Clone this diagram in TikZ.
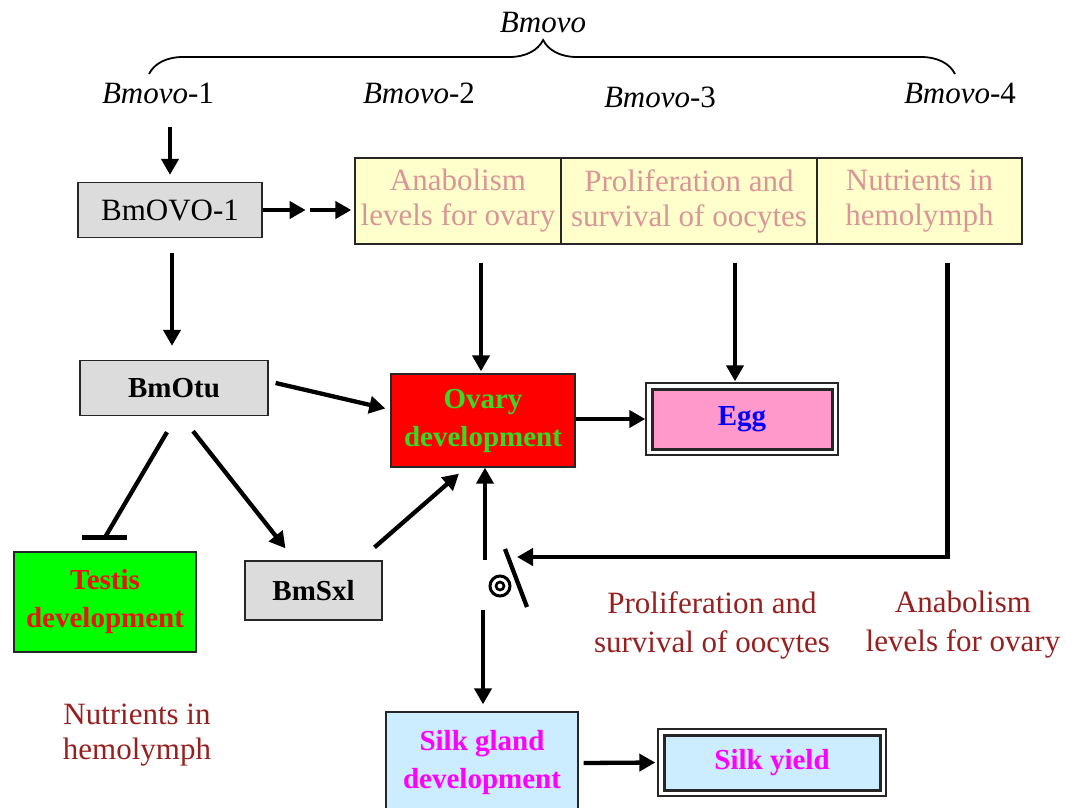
\documentclass[tikz,border=0pt]{standalone}
\usepackage{fontspec}
\setmainfont{Liberation Serif}
\usetikzlibrary{arrows.meta,decorations.pathreplacing,calc}
\definecolor{boxgray}{HTML}{DCDCDC}
\definecolor{boxyellow}{HTML}{FFFFCC}
\definecolor{paletext}{HTML}{DA9598}
\definecolor{ovred}{HTML}{FF0000}
\definecolor{ovgreen}{HTML}{33DD22}
\definecolor{tegreen}{HTML}{00FF00}
\definecolor{tered}{HTML}{EE1111}
\definecolor{eggpink}{HTML}{FF99CC}
\definecolor{eggblue}{HTML}{0000FF}
\definecolor{silkblue}{HTML}{CCECFF}
\definecolor{silkmag}{HTML}{FF00FF}
\definecolor{labred}{HTML}{962020}
\begin{document}
\begin{tikzpicture}[x=1pt,y=-1pt,
  txt/.style={font=\fontsize{31}{35}\selectfont,inner sep=0pt,align=center},
  box/.style={draw=black!85,line width=1.3pt,inner sep=0pt,align=center,font=\fontsize{31}{35}\selectfont},
  bbox/.style={box,font=\fontsize{29}{38}\selectfont\bfseries},
  dblbox/.style={bbox,fill=white,line width=1.4pt,
    path picture={\draw[line width=3pt,fill=#1]
      ([shift={(6pt,-6pt)}]path picture bounding box.north west) rectangle
      ([shift={(-6pt,6pt)}]path picture bounding box.south east);}},
  arr/.style={line width=4.3pt,-{Triangle[length=16pt,width=17pt]}},
  plain/.style={line width=4.3pt}]
\useasboundingbox (0,0) rectangle (1066,807);
% gene labels and brace
\node[txt] (bmovo) at (543,22) {\textit{Bmovo}};
\node[txt] (b1) at (158,93) {\textit{Bmovo}-1};
\node[txt] (b2) at (419,93) {\textit{Bmovo}-2};
\node[txt] (b3) at (660,97) {\textit{Bmovo}-3};
\node[txt] (b4) at (960,93) {\textit{Bmovo}-4};
\coordinate (brL) at (149,74);
\coordinate (brR) at (955,74);
\draw[line width=1.8pt,decorate,decoration={brace,amplitude=34pt,aspect=0.489}] (brL) -- (brR);
% boxes
\node[box,fill=boxgray,minimum width=184pt,minimum height=55pt] (ovo1) at (170,210) {BmOVO-1};
\node[box,fill=boxyellow,text=paletext,minimum width=206pt,minimum height=86pt] (y1) at (458,201) {Anabolism\\levels for ovary};
\node[box,fill=boxyellow,text=paletext,minimum width=256pt,minimum height=86pt] (y2) at (689,201) {Proliferation and\\survival of oocytes};
\node[box,fill=boxyellow,text=paletext,minimum width=205pt,minimum height=86pt] (y3) at (919.5,201) {Nutrients in\\hemolymph};
\node[bbox,fill=boxgray,minimum width=188pt,minimum height=55pt] (otu) at (174,388) {BmOtu};
\node[bbox,fill=ovred,text=ovgreen,minimum width=184pt,minimum height=93pt] (ovary) at (483,420.5) {Ovary\\development};
\node[dblbox=eggpink,text=eggblue,minimum width=192pt,minimum height=72pt] (egg) at (742,419) {Egg};
\node[bbox,fill=tegreen,text=tered,minimum width=182pt,minimum height=100pt] (testis) at (105,602) {Testis\\development};
\node[bbox,fill=boxgray,minimum width=137pt,minimum height=59pt] (sxl) at (313.5,590.5) {BmSxl};
\node[bbox,fill=silkblue,text=silkmag,minimum width=192pt,minimum height=102pt] (silk) at (482,763) {Silk gland\\development};
\node[dblbox=silkblue,text=silkmag,minimum width=228pt,minimum height=67pt] (yield) at (772,762.5) {Silk yield};
% free labels
\node[txt,text=labred,font=\fontsize{31}{39}\selectfont] (lab1) at (712,625) {Proliferation and\\survival of oocytes};
\node[txt,text=labred,font=\fontsize{31}{39}\selectfont] (lab2) at (963,625) {Anabolism\\levels for ovary};
\node[txt,text=labred,font=\fontsize{31}{35}\selectfont] (lab3) at (137,735) {Nutrients in\\hemolymph};
% switch symbol
\coordinate (sym) at (500,586);
\coordinate (sl1) at (505,549);
\coordinate (sl2) at (527,607);
\coordinate (swin) at (517,557);
\draw[line width=3pt] (sym) circle[radius=10];
\draw[line width=2.6pt] (sym) circle[radius=4];
\draw[line width=4.3pt] (sl1) -- (sl2);
% connectors
\draw[arr] ($(ovo1.north)+(0,-55)$) -- ($(ovo1.north)+(0,-7)$);
\draw[arr] (ovo1.east) -- ++(43,0);
\draw[arr] ($(y1.west |- ovo1.east)+(-44,0)$) -- ($(y1.west |- ovo1.east)+(-3,0)$);
\draw[arr] ($(y1.south -| ovary)+(-2,18)$) -- ($(ovary.north)+(-2,-2)$);
\draw[arr] ($(y2.south)+(46,18)$) -- ($(egg.north)+(-7,-1)$);
\draw[arr] ($(y3.south)+(28,18)$) |- (swin);
\draw[arr] ($(ovo1.south)+(2,15)$) -- ($(otu.north)+(-2,-14)$);
\draw[arr] ($(otu.east)+(7,-5)$) -- ($(ovary.west)+(-5,-12)$);
\draw[arr] (ovary.east |- egg.west) -- (egg.west);
\draw[plain] ($(otu.south)+(-7,16)$) -- ($(testis.north)+(0,-14)$);
\draw[plain] ($(testis.north)+(-23,-14)$) -- ($(testis.north)+(22,-14)$);
\draw[arr] ($(otu.south)+(19,15)$) -- ($(sxl.north)+(-28,-12)$);
\draw[arr] ($(sxl.north)+(61,-13)$) -- ($(ovary.south)+(-24,6)$);
\draw[arr] ($(sym)+(-15,-26)$) -- ($(ovary.south)+(2,0)$);
\draw[arr] ($(sym)+(-17,24)$) -- ($(silk.north)+(1,-7)$);
\draw[arr] ($(silk.east)+(5,0)$) -- ($(yield.west)+(-2,0)$);
\end{tikzpicture}
\end{document}
